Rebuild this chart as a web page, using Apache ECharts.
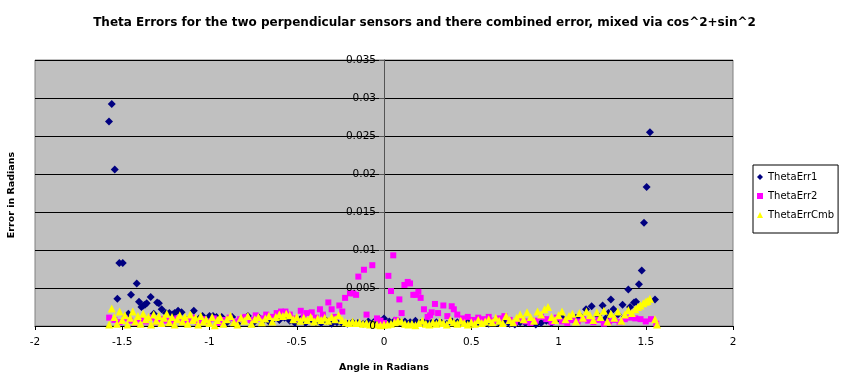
<!DOCTYPE html>
<html>
<head>
<meta charset="utf-8">
<script src="https://cdn.jsdelivr.net/npm/echarts@6/dist/echarts.min.js"></script>
<style>html,body{margin:0;padding:0;background:#fff}#c{width:849px;height:378px}</style>
</head>
<body>
<div id="c"></div>
<script>
const titleText = 'Theta Errors for the two perpendicular sensors and there combined error, mixed via cos^2+sin^2';
const xName = 'Angle in Radians';
const yName = 'Error in Radians';
const seriesNames = ['ThetaErr1', 'ThetaErr2', 'ThetaErrCmb'];
const xTicks = { min: -2, max: 2, step: 0.5 };
const yTicks = { min: 0, max: 0.035, step: 0.005 };

// [angle, error] pairs
const thetaErr1 = [
[-1.576,0.0269],[-1.560,0.0292],[-1.543,0.0206],[-1.528,0.0036],[-1.517,0.0083],[-1.497,0.0083],[-1.465,0.0016],[-1.450,0.0041],[-1.417,0.0056],[-1.404,0.0032],
[-1.39,0.0025],[-1.38,0.0027],[-1.37,0.0028],[-1.36,0.0030],[-1.337,0.0038],[-1.32,0.0016],[-1.30,0.0031],[-1.29,0.0030],[-1.274,0.0022],[-1.25,0.0017],
[-1.23,0.0017],[-1.21,0.0015],[-1.20,0.0017],[-1.18,0.0020],[-1.16,0.0018],[-1.13,0.0008],[-1.09,0.0020],[-1.06,0.0010],[-1.04,0.0013],[-1.00,0.0013],
[-0.98,0.0013],[-0.96,0.0012],[-0.93,0.0012],[-0.90,0.0005],[-0.87,0.0012],[-0.84,0.0003],[-0.81,0.0009],[-0.78,0.0013],[-0.75,0.0004],[-0.72,0.0012],
[-0.69,0.0008],[-0.66,0.0006],[-0.63,0.0010],[-0.60,0.0008],[-0.57,0.0011],[-0.54,0.0007],[-0.51,0.0004],[-0.48,0.0009],[-0.45,0.0004],[-0.42,0.0008],
[-0.39,0.0005],[-0.36,0.0004],[-0.33,0.0007],[-0.30,0.0003],[-0.27,0.0005],[-0.24,0.0004],[-0.21,0.0003],[-0.18,0.0005],[-0.15,0.0004],[-0.12,0.0003],
[-0.09,0.0006],[-0.06,0.0005],[-0.03,0.0008],[0.00,0.0010],[0.03,0.0006],[0.06,0.0007],[0.09,0.0005],[0.12,0.0006],[0.15,0.0005],[0.18,0.0007],
[0.21,0.0004],[0.24,0.0006],[0.27,0.0004],[0.30,0.0005],[0.33,0.0004],[0.36,0.0003],[0.39,0.0006],[0.42,0.0005],[0.45,0.0004],[0.48,0.0005],
[0.51,0.0003],[0.54,0.0004],[0.57,0.0005],[0.60,0.0003],[0.63,0.0006],[0.66,0.0004],[0.69,0.0007],[0.72,0.0003],[0.75,0.0002],[0.78,0.0005],
[0.81,0.0004],[0.84,0.0006],[0.87,0.0002],[0.90,0.0004],[0.93,0.0007],[0.96,0.0004],[0.99,0.0008],[1.02,0.0011],[1.05,0.0006],[1.08,0.0009],
[1.10,0.0011],[1.13,0.0012],[1.158,0.0022],[1.19,0.0026],[1.228,0.0013],[1.253,0.0027],[1.27,0.0010],[1.286,0.0017],[1.30,0.0035],[1.315,0.0022],
[1.34,0.0015],[1.367,0.0028],[1.38,0.0012],[1.40,0.0048],[1.41,0.0025],[1.433,0.0031],[1.444,0.0032],[1.461,0.0055],[1.477,0.0073],[1.49,0.0136],
[1.505,0.0183],[1.524,0.0255],[1.553,0.0035]
];
const thetaErr2 = [
[-1.575,0.0011],[-1.545,0.0008],[-1.515,0.0005],[-1.485,0.0010],[-1.455,0.0007],[-1.425,0.0004],[-1.395,0.0009],[-1.365,0.0006],[-1.335,0.0011],[-1.305,0.0005],
[-1.275,0.0009],[-1.245,0.0007],[-1.215,0.0004],[-1.185,0.0010],[-1.155,0.0006],[-1.125,0.0008],[-1.095,0.0011],[-1.065,0.0005],[-1.035,0.0009],[-1.005,0.0006],
[-0.975,0.0010],[-0.945,0.0004],[-0.915,0.0008],[-0.885,0.0011],[-0.855,0.0006],[-0.825,0.0009],[-0.795,0.0012],[-0.765,0.0008],[-0.735,0.0014],[-0.705,0.0010],
[-0.675,0.0015],[-0.645,0.0012],[-0.615,0.0017],[-0.59,0.0019],[-0.565,0.0019],[-0.54,0.0015],[-0.51,0.0010],[-0.477,0.0020],[-0.46,0.0012],[-0.443,0.0017],
[-0.414,0.0018],[-0.39,0.0011],[-0.367,0.0022],[-0.35,0.0015],[-0.319,0.0031],[-0.30,0.0022],[-0.28,0.0012],[-0.256,0.0027],[-0.239,0.0019],[-0.223,0.0037],
[-0.195,0.0043],[-0.176,0.0043],[-0.16,0.0041],[-0.147,0.0065],[-0.115,0.0074],[-0.10,0.0015],[-0.067,0.0080],[-0.04,0.0010],[-0.02,0.0007],[0.00,0.0004],
[0.025,0.0066],[0.04,0.0046],[0.053,0.0093],[0.07,0.0008],[0.088,0.0035],[0.101,0.0017],[0.117,0.0054],[0.136,0.0058],[0.149,0.0056],[0.168,0.0041],
[0.183,0.0041],[0.197,0.0045],[0.21,0.0037],[0.229,0.0022],[0.25,0.0012],[0.264,0.0014],[0.273,0.0018],[0.292,0.0029],[0.31,0.0017],[0.34,0.0027],
[0.363,0.0013],[0.388,0.0026],[0.40,0.0022],[0.42,0.0015],[0.45,0.0010],[0.48,0.0012],[0.51,0.0008],[0.54,0.0011],[0.57,0.0009],[0.60,0.0012],
[0.63,0.0007],[0.66,0.0010],[0.69,0.0013],[0.72,0.0008],[0.75,0.0005],[0.78,0.0009],[0.81,0.0006],[0.84,0.0004],[0.87,0.0007],[0.90,0.0012],
[0.93,0.0009],[0.96,0.0005],[0.99,0.0011],[1.02,0.0006],[1.05,0.0004],[1.08,0.0008],[1.11,0.0006],[1.14,0.0009],[1.17,0.0007],[1.20,0.0005],
[1.23,0.0008],[1.26,0.0003],[1.29,0.0006],[1.32,0.0008],[1.35,0.0005],[1.38,0.0009],[1.41,0.0011],[1.44,0.0010],[1.47,0.0009],[1.50,0.0006],
[1.53,0.0009],[1.56,0.0003]
];
const thetaErrCmb = [
[-1.575,0.0002],[-1.56,0.0023],[-1.545,0.0012],[-1.53,0.0003],[-1.515,0.0019],[-1.50,0.0008],[-1.485,0.0014],[-1.47,0.0002],[-1.455,0.0011],[-1.44,0.0019],
[-1.425,0.0006],[-1.41,0.0013],[-1.395,0.0003],[-1.38,0.0016],[-1.365,0.0009],[-1.35,0.0012],[-1.335,0.0002],[-1.32,0.0015],[-1.305,0.0007],[-1.29,0.0013],
[-1.275,0.0004],[-1.26,0.0011],[-1.245,0.0016],[-1.23,0.0005],[-1.215,0.0012],[-1.20,0.0002],[-1.185,0.0009],[-1.17,0.0014],[-1.155,0.0006],[-1.14,0.0012],
[-1.125,0.0003],[-1.11,0.0015],[-1.095,0.0008],[-1.08,0.0011],[-1.065,0.0002],[-1.05,0.0013],[-1.035,0.0006],[-1.02,0.0009],[-1.00,0.0004],[-0.985,0.0012],
[-0.97,0.0001],[-0.955,0.0008],[-0.94,0.0012],[-0.92,0.0003],[-0.90,0.0009],[-0.88,0.0013],[-0.86,0.0005],[-0.84,0.0002],[-0.82,0.0011],[-0.80,0.0007],
[-0.78,0.0013],[-0.76,0.0003],[-0.74,0.0009],[-0.72,0.0012],[-0.70,0.0005],[-0.68,0.0010],[-0.66,0.0013],[-0.64,0.0006],[-0.62,0.0012],[-0.60,0.0015],
[-0.58,0.0013],[-0.56,0.0016],[-0.54,0.0014],[-0.52,0.0009],[-0.50,0.0012],[-0.48,0.0007],[-0.46,0.0011],[-0.44,0.0008],[-0.42,0.0012],[-0.40,0.0006],
[-0.38,0.0010],[-0.36,0.0008],[-0.34,0.0011],[-0.32,0.0007],[-0.30,0.0012],[-0.28,0.0009],[-0.26,0.0014],[-0.24,0.0008],[-0.22,0.0005],[-0.20,0.0004],
[-0.18,0.0006],[-0.16,0.0004],[-0.14,0.0005],[-0.12,0.0003],[-0.10,0.0004],[-0.08,0.0002],[-0.06,0.0003],[-0.04,0.0002],[-0.02,0.0001],[0.00,0.0002],
[0.02,0.0002],[0.04,0.0003],[0.06,0.0005],[0.08,0.0007],[0.10,0.0006],[0.12,0.0003],[0.14,0.0002],[0.16,0.0003],[0.18,0.0001],[0.20,0.0004],
[0.22,0.0007],[0.24,0.0003],[0.26,0.0002],[0.28,0.0005],[0.30,0.0003],[0.32,0.0006],[0.34,0.0004],[0.36,0.0002],[0.38,0.0008],[0.40,0.0005],
[0.42,0.0003],[0.44,0.0007],[0.46,0.0004],[0.48,0.0002],[0.50,0.0005],[0.52,0.0003],[0.54,0.0008],[0.56,0.0004],[0.58,0.0006],[0.60,0.0009],
[0.62,0.0005],[0.64,0.0011],[0.66,0.0007],[0.68,0.0004],[0.70,0.0013],[0.72,0.0008],[0.74,0.0005],[0.76,0.0011],[0.78,0.0015],[0.80,0.0009],
[0.82,0.0018],[0.84,0.0012],[0.86,0.0007],[0.88,0.0019],[0.90,0.0015],[0.92,0.0022],[0.94,0.0025],[0.96,0.0012],[0.98,0.0008],[1.00,0.0014],
[1.02,0.0019],[1.04,0.0009],[1.06,0.0013],[1.08,0.0016],[1.10,0.0006],[1.12,0.0017],[1.14,0.0011],[1.16,0.0019],[1.18,0.0014],[1.20,0.0008],
[1.22,0.0018],[1.24,0.0012],[1.26,0.0020],[1.28,0.0006],[1.30,0.0016],[1.32,0.0011],[1.34,0.0019],[1.36,0.0007],[1.38,0.0015],[1.40,0.0021],
[1.42,0.0017],[1.44,0.0022],[1.455,0.0025],[1.47,0.0027],[1.486,0.0030],[1.50,0.0032],[1.51,0.0033],[1.524,0.0036],[1.553,0.0009],[1.565,0.0002]
];

const FONT = '"DejaVu Sans", Arial, sans-serif';
const gridLeft = 35, gridRight = 116;
const chartW = 849;
const chart = echarts.init(document.getElementById('c'), null, { renderer: 'canvas' });
// pixel offset that puts the y axis on x = 0 (derived from the axis scale)
const plotW = chartW - gridLeft - gridRight;
const zeroOffset = plotW * (0 - xTicks.min) / (xTicks.max - xTicks.min);
const yBase = {
  type: 'value', min: yTicks.min, max: yTicks.max, interval: yTicks.step,
  position: 'left', offset: -zeroOffset
};
chart.setOption({
  animation: false,
  backgroundColor: '#ffffff',
  title: {
    text: titleText, left: 'center', top: 12,
    textStyle: { fontFamily: FONT, fontSize: 12, fontWeight: 'bold', color: '#000' }
  },
  grid: {
    left: gridLeft, right: gridRight, top: 60, bottom: 48,
    show: true, backgroundColor: '#C0C0C0', borderColor: '#808080', borderWidth: 1
  },
  legend: {
    orient: 'vertical', left: 753, top: 165,
    padding: [5, 4, 11, 4], itemGap: 5, itemWidth: 6, itemHeight: 6,
    backgroundColor: '#fff', borderColor: '#000', borderWidth: 1, borderRadius: 0,
    textStyle: { fontFamily: FONT, fontSize: 10, color: '#000', lineHeight: 14 },
    data: seriesNames
  },
  xAxis: {
    type: 'value', min: xTicks.min, max: xTicks.max, interval: xTicks.step,
    axisLine: { onZero: false, lineStyle: { color: '#000', width: 1 } },
    axisTick: { show: true, length: 4, lineStyle: { color: '#000' } },
    axisLabel: { margin: 11, fontFamily: FONT, fontSize: 10.5, color: '#000', hideOverlap: false },
    splitLine: { show: false },
    name: xName, nameLocation: 'middle', nameGap: 37,
    nameTextStyle: { fontFamily: FONT, fontSize: 9.5, fontWeight: 'bold', color: '#000' }
  },
  yAxis: [
    Object.assign({}, yBase, {
      axisLine: { show: true, onZero: false, lineStyle: { color: '#555', width: 1 } },
      axisTick: { show: true, length: 5, lineStyle: { color: '#555' } },
      axisLabel: { show: false },
      splitLine: { show: true, lineStyle: { color: '#000', width: 1 } }
    }),
    Object.assign({}, yBase, {
      z: 10,
      axisLine: { show: false, onZero: false },
      axisTick: { show: false },
      axisLabel: { margin: 8, fontFamily: FONT, fontSize: 10.5, color: '#000',
        showMinLabel: true, showMaxLabel: true, hideOverlap: false },
      splitLine: { show: false }
    })
  ],
  graphic: [{
    type: 'text', x: 12, y: 195, rotation: Math.PI / 2,
    style: { text: yName, font: 'bold 9.5px ' + FONT, fill: '#000', align: 'center', verticalAlign: 'middle' }
  }],
  series: [
    { name: seriesNames[0], type: 'scatter', data: thetaErr1, symbol: 'diamond', symbolSize: 8,
      itemStyle: { color: '#000080', opacity: 1 } },
    { name: seriesNames[1], type: 'scatter', data: thetaErr2, symbol: 'rect', symbolSize: 6,
      itemStyle: { color: '#FF00FF', opacity: 1 } },
    { name: seriesNames[2], type: 'scatter', data: thetaErrCmb, symbol: 'triangle', symbolSize: 8,
      itemStyle: { color: '#FFFF00', opacity: 1 } }
  ]
});
</script>
</body>
</html>
